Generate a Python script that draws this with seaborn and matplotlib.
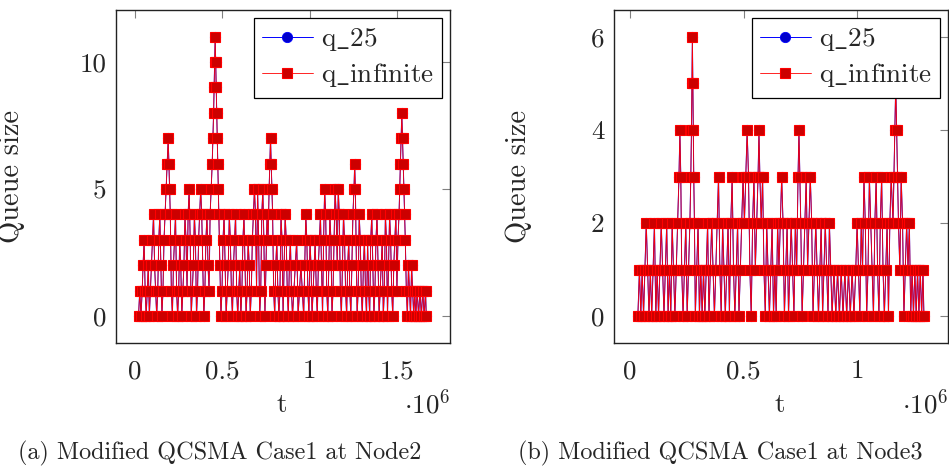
import numpy as np
import matplotlib
matplotlib.use("Agg")
import matplotlib.pyplot as plt
import seaborn as sns

# ---------------- data (t in thousands of time units, queue sizes) ----------------
t_node2_k = [20, 27, 34, 41, 46, 52, 58, 64, 70, 76, 82, 88, 94, 100, 106, 112, 118, 124, 130, 136,
             142, 148, 154, 160, 166, 172, 178, 184, 190, 194, 198, 202, 208, 214, 220, 226, 232, 238,
             244, 250, 256, 262, 268, 274, 280, 286, 292, 298, 304, 310, 316, 322, 328, 334, 340, 346,
             352, 358, 364, 370, 376, 382, 388, 394, 400, 406, 412, 418, 424, 430, 436, 442, 446, 450,
             453, 456, 459, 462, 465, 468, 471, 474, 477, 480, 486, 492, 498, 504, 510, 516, 522, 528,
             534, 540, 546, 552, 558, 564, 570, 576, 582, 588, 594, 600, 606, 612, 618, 624, 630, 636,
             642, 648, 654, 660, 666, 672, 678, 684, 690, 696, 702, 708, 714, 720, 726, 732, 738, 744,
             750, 756, 762, 768, 772, 776, 780, 784, 788, 794, 800, 806, 812, 818, 824, 830, 836, 842,
             848, 854, 860, 866, 872, 878, 884, 890, 896, 902, 910, 918, 926, 934, 942, 950, 958, 966,
             972, 978, 984, 990, 996, 1002, 1008, 1014, 1020, 1026, 1032, 1038, 1044, 1050, 1056, 1062,
             1068, 1074, 1080, 1086, 1092, 1098, 1104, 1110, 1116, 1122, 1128, 1134, 1140, 1146, 1152,
             1158, 1164, 1170, 1176, 1182, 1188, 1194, 1200, 1206, 1212, 1218, 1224, 1230, 1236, 1242,
             1248, 1254, 1258, 1262, 1266, 1272, 1278, 1284, 1290, 1296, 1302, 1308, 1314, 1320, 1326,
             1332, 1338, 1344, 1350, 1356, 1362, 1368, 1374, 1380, 1386, 1392, 1398, 1404, 1410, 1416,
             1422, 1428, 1434, 1440, 1446, 1452, 1458, 1464, 1470, 1476, 1482, 1488, 1494, 1500, 1506,
             1512, 1516, 1520, 1524, 1528, 1532, 1536, 1540, 1544, 1548, 1554, 1560, 1566, 1572, 1578,
             1584, 1590, 1596, 1602, 1608, 1616, 1624, 1632, 1640, 1648, 1656, 1664, 1668]
q_inf_node2 = [0, 1, 0, 1, 2, 3, 1, 0, 1, 2, 0, 1, 2, 3, 4, 2, 1, 0, 1, 3,
               4, 2, 0, 1, 3, 4, 5, 6, 7, 6, 5, 4, 1, 0, 2, 3, 4, 1,
               0, 1, 3, 2, 0, 1, 2, 4, 3, 1, 4, 5, 3, 0, 1, 2, 4, 3,
               0, 1, 3, 4, 5, 4, 2, 0, 1, 3, 4, 2, 1, 4, 5, 6, 7, 8,
               9, 10, 11, 10, 9, 8, 7, 6, 5, 4, 2, 0, 1, 3, 4, 2, 0, 1,
               2, 4, 3, 1, 0, 2, 3, 4, 1, 0, 1, 2, 0, 1, 3, 4, 2, 0,
               1, 3, 2, 0, 1, 3, 4, 5, 4, 1, 5, 3, 0, 1, 4, 5, 3, 0,
               2, 4, 3, 5, 6, 7, 6, 5, 4, 1, 0, 2, 3, 1, 0, 1, 4, 3,
               0, 2, 4, 3, 1, 0, 2, 3, 1, 0, 1, 2, 3, 0, 1, 2, 1, 0,
               2, 4, 3, 1, 0, 3, 2, 0, 1, 2, 3, 1, 0, 2, 3, 4,
               2, 0, 3, 5, 4, 1, 0, 2, 4, 3, 0, 1, 3, 5, 4,
               2, 5, 4, 1, 0, 2, 4, 3, 1, 0, 2, 3, 1, 0, 2,
               4, 5, 6, 5, 3, 0, 1, 4, 3, 1, 0, 2, 3, 1, 0,
               3, 1, 0, 3, 4, 2, 0, 1, 3, 4, 2, 0, 1, 2, 3,
               0, 1, 4, 3, 0, 2, 4, 3, 1, 0, 2, 3, 4, 1, 3,
               4, 5, 6, 7, 8, 7, 6, 5, 4, 3, 1, 0, 2, 1, 0,
               2, 1, 0, 1, 0, 1, 0, 1, 0, 1, 0, 1, 0]
q_25_node2 = q_inf_node2  # the queue never reaches the cap of 25, so both traces coincide

t_node3_k = [35, 42, 48, 54, 60, 66, 72, 78, 84, 90, 96, 102, 108, 114, 120, 126, 132, 138, 144, 150,
             156, 162, 168, 174, 180, 186, 192, 198, 204, 210, 216, 220, 224, 228, 234, 240, 246, 252,
             258, 264, 268, 271, 273, 275, 277, 279, 281, 284, 288, 294, 300, 306, 312, 318, 324, 330,
             336, 342, 348, 354, 360, 366, 372, 378, 384, 390, 396, 402, 408, 414, 420, 426, 432, 438,
             444, 450, 456, 462, 468, 474, 480, 486, 492, 498, 504, 510, 516, 522, 528, 534, 540, 546,
             552, 558, 564, 568, 572, 578, 584, 590, 596, 602, 608, 614, 620, 626, 632, 638, 644, 650,
             656, 662, 668, 674, 680, 686, 692, 698, 704, 710, 716, 722, 728, 734, 740, 744, 748, 752,
             758, 764, 770, 776, 782, 788, 794, 800, 806, 812, 818, 824, 830, 836, 842, 848, 854, 860,
             866, 872, 878, 884, 890, 898, 906, 914, 922, 930, 938, 946, 954, 962, 970, 978, 986, 994,
             1000, 1006, 1012, 1018, 1024, 1030, 1036, 1042, 1048, 1054, 1060, 1066, 1072, 1078, 1084,
             1090, 1096, 1102, 1108, 1114, 1120, 1126, 1132, 1138, 1144, 1150, 1158, 1162, 1166, 1170,
             1174, 1178, 1182, 1188, 1194, 1200, 1206, 1212, 1218, 1224, 1230, 1236, 1242, 1248, 1254,
             1260, 1266, 1272, 1278, 1284, 1290, 1294]
q_inf_node3 = [0, 1, 0, 1, 0, 1, 2, 1, 0, 1, 0, 1, 2, 0, 1, 0, 1, 2, 1, 0,
               1, 2, 0, 1, 0, 2, 1, 0, 1, 2, 3, 4, 3, 1, 0, 1, 2, 0,
               1, 2, 3, 4, 5, 6, 5, 4, 3, 2, 0, 1, 2, 0, 1, 0, 1, 0,
               1, 2, 0, 1, 2, 1, 0, 1, 2, 3, 1, 0, 2, 1, 0, 1, 2, 0,
               2, 3, 1, 0, 1, 2, 0, 1, 2, 3, 2, 3, 4, 3, 1, 0, 2, 3,
               1, 2, 3, 4, 3, 2, 3, 1, 0, 2, 1, 0, 1, 2, 0, 1, 0, 2,
               1, 2, 3, 2, 0, 1, 2, 0, 1, 2, 1, 0, 2, 1, 3, 4, 3, 2,
               0, 1, 2, 3, 1, 2, 3, 2, 0, 1, 2, 1, 0, 1, 2, 0, 1, 2,
               1, 0, 2, 1, 0, 1, 0, 1, 0, 1, 0, 1, 0, 1, 0, 1, 0, 1,
               2, 1, 0, 2, 1, 3, 2, 0, 1, 3, 2, 1, 0, 2, 3,
               1, 0, 2, 3, 1, 0, 1, 2, 0, 2, 3, 2, 3, 4, 5,
               4, 3, 2, 1, 3, 2, 0, 1, 2, 1, 2, 0, 1, 0, 1,
               0, 1, 0, 1, 0, 1, 0]
q_25_node3 = q_inf_node3

legend_labels = [r"q$\_$25", r"q$\_$infinite"]
x_ticks = [0, 0.5e6, 1e6, 1.5e6]
x_tick_labels = ["0", "0.5", "1", "1.5"]
captions = ["(a) Modified QCSMA Case1 at Node2", "(b) Modified QCSMA Case1 at Node3"]

# ---------------- style ----------------
sns.set_style("white")
plt.rcParams["font.family"] = ["cmr10", "DejaVu Serif"]
plt.rcParams["mathtext.fontset"] = "cm"
plt.rcParams["mathtext.rm"] = "cmr10"
plt.rcParams["axes.formatter.use_mathtext"] = True
plt.rcParams["axes.unicode_minus"] = False

W, H = 949, 468
fig = plt.figure(figsize=(W / 100, H / 100), dpi=100)

def px_axes(x0, x1, y0, y1):
    return fig.add_axes([x0 / W, 1 - y1 / H, (x1 - x0) / W, (y1 - y0) / H])

ax1 = px_axes(116, 450, 10, 343)
ax2 = px_axes(614, 948, 10, 343)

panels = [
    (ax1, t_node2_k, q_25_node2, q_inf_node2, (-0.109e6, 1.804e6), (-1.06, 12.05), [0, 5, 10], 4),
    (ax2, t_node3_k, q_25_node3, q_inf_node3, (-0.07e6, 1.40e6), (-0.58, 6.58), [0, 2, 4, 6], 3),
]

FS = 19.5
for ax, tk, q25, qinf, xl, yl, yt, nx in panels:
    t = np.asarray(tk, dtype=float) * 1e3
    sns.lineplot(x=t, y=q25, ax=ax, sort=False, estimator=None, color="#0000ff",
                 marker="o", markersize=7.4, markerfacecolor="#0000cc",
                 markeredgecolor="#0000ff", markeredgewidth=0.6, linewidth=0.7, label=legend_labels[0])
    sns.lineplot(x=t, y=qinf, ax=ax, sort=False, estimator=None, color="#ff0000",
                 marker="s", markersize=7.8, markerfacecolor="#cc0000",
                 markeredgecolor="#ff0000", markeredgewidth=0.8, linewidth=0.6, label=legend_labels[1])
    ax.set_xlim(*xl)
    ax.set_ylim(*yl)
    ax.set_xticks(x_ticks[:nx])
    ax.set_xticklabels(x_tick_labels[:nx])
    ax.set_yticks(yt)
    ax.set_yticklabels([str(v) for v in yt])
    ax.tick_params(direction="in", top=True, right=True, length=6, width=0.8,
                   color="#808080", labelsize=FS)
    ax.tick_params(axis="x", pad=12)
    ax.tick_params(axis="y", pad=7)
    for sp in ax.spines.values():
        sp.set_color("#222222")
        sp.set_linewidth(1.0)
    ax.set_xlabel("t", fontsize=FS)
    ax.set_ylabel("Queue size", fontsize=FS + 1)
    ax.xaxis.set_label_coords(0.497, -0.152)
    ax.text(1.0, -0.18, r"$\cdot 10^{6}$", transform=ax.transAxes, ha="right", va="center",
            fontsize=FS)
    leg = ax.legend(loc="upper right", fontsize=FS, frameon=True, fancybox=False,
                    edgecolor="black", framealpha=1.0, borderaxespad=0.3,
                    handlelength=1.85, handletextpad=0.3, borderpad=0.3, labelspacing=0.3)
    leg.get_frame().set_linewidth(0.9)

ax1.yaxis.set_label_coords(-0.272, 0.5)
ax2.yaxis.set_label_coords(-0.245, 0.5)

fig.text(220 / W, 1 - 453 / H, captions[0], ha="center", va="center", fontsize=17.4)
fig.text(720 / W, 1 - 453 / H, captions[1], ha="center", va="center", fontsize=17.4)

fig.savefig("out.png", dpi=100)
